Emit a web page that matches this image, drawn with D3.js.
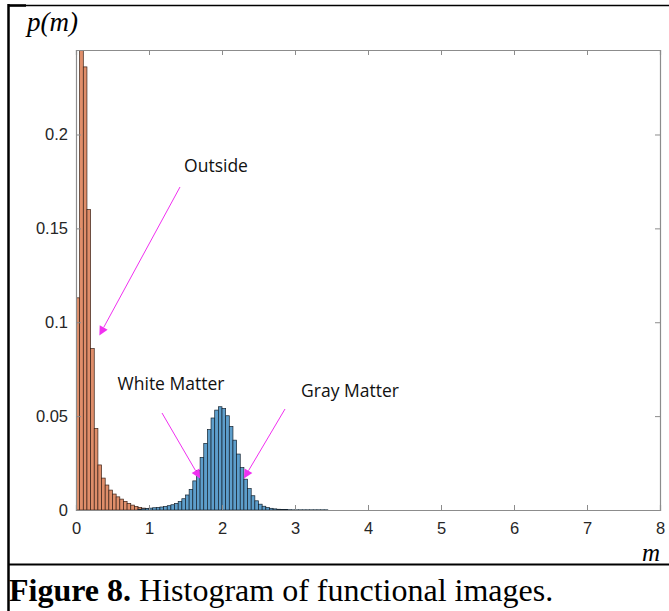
<!DOCTYPE html>
<html>
<head>
<meta charset="utf-8">
<script src="https://cdn.jsdelivr.net/npm/d3@7"></script>
<style>
  html, body { margin: 0; padding: 0; background: #fff; }
  svg { display: block; }
</style>
</head>
<body>
<svg id="chart" width="669" height="611"></svg>
<script>
// Histogram bin width (units of m)
const binWidth = 0.05;

// Background / outside region: bins starting at m = 0
const outsideStart = 0;
const outsideValues = [
  0.113, 0.31, 0.236, 0.160, 0.086, 0.0434, 0.024, 0.017, 0.0133, 0.0106,
  0.0085, 0.0070, 0.0058, 0.0046, 0.0035, 0.0026, 0.0019, 0.0014, 0.0010, 0.0007
];

// Brain tissue region: bins starting at m = 0.85
const tissueStart = 0.85;
const tissueValues = [
  0.0004, 0.0006, 0.0008, 0.0010, 0.0012, 0.0014, 0.0016, 0.0019, 0.0023, 0.0028,
  0.0035, 0.0045, 0.0060, 0.0080, 0.0110, 0.0155, 0.0210, 0.0280, 0.0355, 0.0428,
  0.0490, 0.0532, 0.0550, 0.0540, 0.0502, 0.0445, 0.0372, 0.0298, 0.0226, 0.0164,
  0.0114, 0.0076, 0.0049, 0.0031, 0.0020, 0.0013, 0.0009, 0.0006, 0.0004, 0.0003,
  0.0002, 0.00015, 0.0001, 0.0001, 0.0001, 0.0001, 0.0001, 0.0001, 0.0001, 0.0001,
  0.0001, 0.0001
];

// Axis ticks
const xTicks = [0, 1, 2, 3, 4, 5, 6, 7, 8];
const yTicks = [0, 0.05, 0.1, 0.15, 0.2];
const yTickLabels = ["0", "0.05", "0.1", "0.15", "0.2"];

// Annotations: label position, arrow start (px) and the [m, p] the arrow points at
const annotations = [
  { text: "Outside",      lx: 216, ly: 172, from: [180, 187], to: [0.32, 0.093] },
  { text: "White Matter", lx: 171, ly: 390, from: [162, 413], to: [1.70, 0.0168] },
  { text: "Gray Matter",  lx: 350, ly: 397, from: [285, 409], to: [2.30, 0.0168] }
];

const svg = d3.select("#chart");
const plot = { left: 76, right: 660, top: 50, bottom: 510 };

const x = d3.scaleLinear().domain([0, 8]).range([plot.left, plot.right]);
const y = d3.scaleLinear().domain([0, 0.245]).range([plot.bottom, plot.top]);

// Figure frame
const frame = svg.append("g").attr("stroke", "#000").attr("fill", "none");
frame.append("line").attr("x1", 8).attr("x2", 669).attr("y1", 5.5).attr("y2", 5.5).attr("stroke-width", 1.5);
frame.append("line").attr("x1", 8).attr("x2", 26).attr("y1", 5.5).attr("y2", 5.5).attr("stroke-width", 2.5);
frame.append("line").attr("x1", 8.5).attr("x2", 8.5).attr("y1", 4).attr("y2", 611).attr("stroke-width", 2.5);
frame.append("line").attr("x1", 8).attr("x2", 669).attr("y1", 564.5).attr("y2", 564.5).attr("stroke-width", 2);

// Clip bars to the plotting area
svg.append("defs").append("clipPath").attr("id", "plotClip")
  .append("rect")
  .attr("x", plot.left).attr("y", plot.top)
  .attr("width", plot.right - plot.left).attr("height", plot.bottom - plot.top);

function bins(start, values) {
  return values.map((v, i) => ({ x0: start + i * binWidth, x1: start + (i + 1) * binWidth, v }));
}

const bars = svg.append("g").attr("clip-path", "url(#plotClip)");

function drawBars(data, fill, stroke) {
  bars.append("g").selectAll("rect").data(data).join("rect")
    .attr("x", d => x(d.x0))
    .attr("width", d => x(d.x1) - x(d.x0))
    .attr("y", d => y(d.v))
    .attr("height", d => y(0) - y(d.v))
    .attr("fill", fill)
    .attr("stroke", stroke)
    .attr("stroke-width", 0.7);
}

drawBars(bins(outsideStart, outsideValues), "#df8e6a", "#3a2218");
drawBars(bins(tissueStart, tissueValues), "#5d9ecb", "#14222e");

// Axes box
const axisColor = "#8c8c8c";
const labelColor = "#262626";
const tickLen = 5;

const xAxisBottom = d3.axisBottom(x).tickValues(xTicks).tickSize(-tickLen).tickPadding(12)
  .tickFormat(d3.format("d"));
const xAxisTop = d3.axisTop(x).tickValues(xTicks).tickSize(-tickLen).tickFormat("");
const yAxisLeft = d3.axisLeft(y).tickValues(yTicks).tickSize(-tickLen).tickPadding(8)
  .tickFormat((d, i) => yTickLabels[i]);
const yAxisRight = d3.axisRight(y).tickValues(yTicks).tickSize(-tickLen).tickFormat("");

function styleAxis(g) {
  g.select(".domain").attr("stroke", axisColor).attr("stroke-width", 1.2);
  g.selectAll(".tick line").attr("stroke", axisColor);
  g.selectAll(".tick text")
    .attr("fill", labelColor)
    .style("font-family", "'Liberation Sans', Arial, sans-serif")
    .style("font-size", "16.5px");
}

svg.append("g").attr("transform", `translate(0,${plot.bottom})`).call(xAxisBottom).call(styleAxis);
svg.append("g").attr("transform", `translate(0,${plot.top})`).call(xAxisTop).call(styleAxis);
svg.append("g").attr("transform", `translate(${plot.left},0)`).call(yAxisLeft).call(styleAxis);
svg.append("g").attr("transform", `translate(${plot.right},0)`).call(yAxisRight).call(styleAxis);

// Remove end ticks that sit on the box corners
svg.selectAll(".tick line").filter(function(d) { return d === 0 || d === 8; }).remove();

// Axis titles
svg.append("text")
  .attr("x", 27).attr("y", 31)
  .style("font-family", "'Liberation Serif', 'Times New Roman', serif")
  .style("font-style", "italic").style("font-size", "27px")
  .text("p(m)");
svg.append("text")
  .attr("x", 642).attr("y", 561)
  .style("font-family", "'Liberation Serif', 'Times New Roman', serif")
  .style("font-style", "italic").style("font-size", "25px")
  .text("m");

// Annotations
const magenta = "#f030f0";
const ann = svg.append("g");
annotations.forEach(a => {
  ann.append("text")
    .attr("x", a.lx).attr("y", a.ly)
    .attr("text-anchor", "middle")
    .style("font-family", "'Open Sans', Lato, sans-serif")
    .style("font-size", "17.5px")
    .attr("fill", "#111")
    .text(a.text);
  const tx = x(a.to[0]), ty = y(a.to[1]);
  const [fx, fy] = a.from;
  const ang = Math.atan2(ty - fy, tx - fx);
  const headLen = 9, headHalf = 4.5;
  const bx = tx - headLen * Math.cos(ang), by = ty - headLen * Math.sin(ang);
  ann.append("line")
    .attr("x1", fx).attr("y1", fy).attr("x2", bx).attr("y2", by)
    .attr("stroke", magenta).attr("stroke-width", 1);
  const px = -Math.sin(ang), py = Math.cos(ang);
  ann.append("path")
    .attr("d", `M${tx},${ty}L${bx + px * headHalf},${by + py * headHalf}L${bx - px * headHalf},${by - py * headHalf}Z`)
    .attr("fill", magenta);
});

// Caption
const cap = svg.append("text")
  .attr("x", 9).attr("y", 601)
  .style("font-family", "'Liberation Serif', 'Times New Roman', serif")
  .style("font-size", "32px")
  .attr("fill", "#000");
cap.append("tspan").style("font-weight", "bold").text("Figure 8.");
cap.append("tspan").text(" Histogram of functional images.");
</script>
</body>
</html>
